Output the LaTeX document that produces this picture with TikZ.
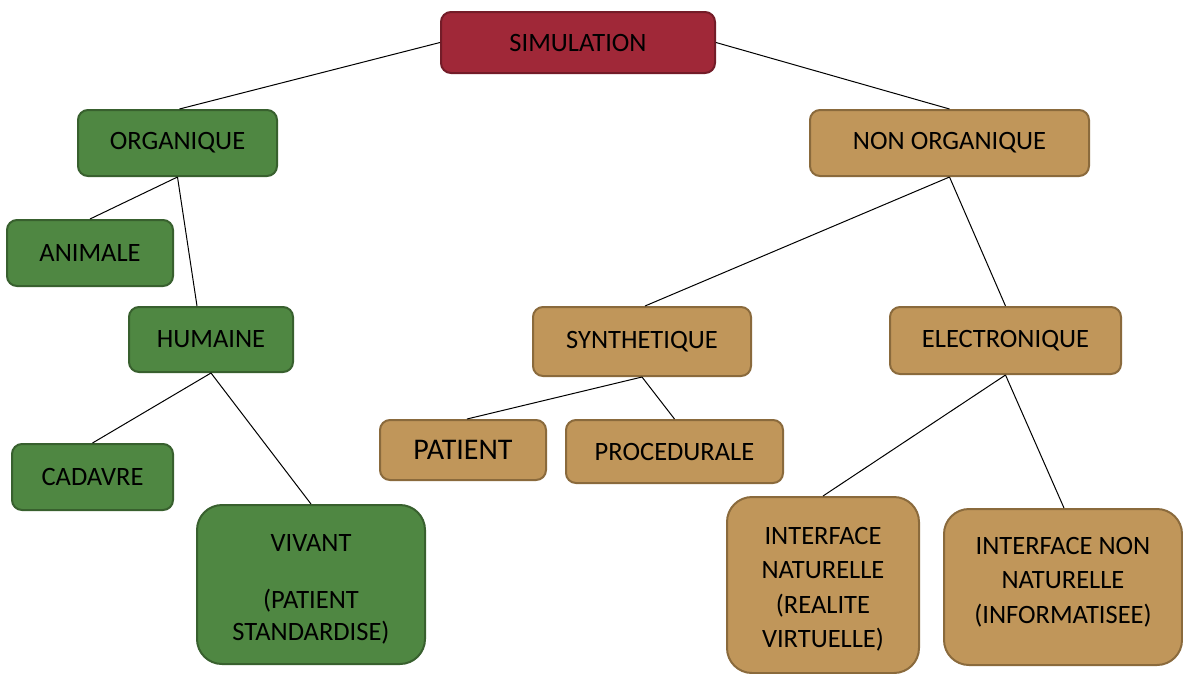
\documentclass[tikz,border=0pt]{standalone}
\usepackage{fontspec}
\setmainfont{Carlito}
\definecolor{simfill}{RGB}{160,40,56}
\definecolor{simdraw}{RGB}{115,28,40}
\definecolor{grfill}{RGB}{79,135,66}
\definecolor{grdraw}{RGB}{56,96,46}
\definecolor{tanfill}{RGB}{192,150,90}
\definecolor{tandraw}{RGB}{138,106,60}
\begin{document}
\begin{tikzpicture}[x=1pt,y=-1pt,
  box/.style={rectangle,rounded corners=10pt,line width=2pt,inner sep=0pt,
    align=center,font=\fontsize{26.5}{34.5}\selectfont,text=black},
  simbox/.style={box,fill=simfill,draw=simdraw},
  grbox/.style={box,fill=grfill,draw=grdraw},
  tanbox/.style={box,fill=tanfill,draw=tandraw},
  txt/.style={inner sep=0pt,align=center,font=\fontsize{26.5}{34.5}\selectfont,text=black},
  link/.style={line width=1pt,black}]
\useasboundingbox (0,0) rectangle (1183,673);
\fill[white] (0,0) rectangle (1183,673);
\node[simbox,minimum width=274pt,minimum height=61pt] (sim) at (578,42.5) {SIMULATION};
\node[grbox,minimum width=199pt,minimum height=66pt] (org) at (177.5,143) {ORGANIQUE};
\node[tanbox,minimum width=279pt,minimum height=66pt] (nonorg) at (949.5,143) {NON ORGANIQUE};
\node[grbox,minimum width=166pt,minimum height=66pt] (ani) at (90,253) {ANIMALE};
\node[grbox,minimum width=164pt,minimum height=65pt] (hum) at (211,339.5) {HUMAINE};
\node[tanbox,minimum width=218pt,minimum height=69pt] (syn) at (642,341.5) {SYNTHETIQUE};
\node[tanbox,minimum width=231pt,minimum height=67pt] (ele) at (1005.5,340.5) {ELECTRONIQUE};
\node[grbox,minimum width=161pt,minimum height=66pt] (cad) at (92.5,477) {CADAVRE};
\node[grbox,rounded corners=25pt,minimum width=228pt,minimum height=159pt] (viv) at (311,584.5) {};
\node[txt] (vivt) at ([yshift=-5pt]viv.center) {VIVANT\\[22pt](PATIENT\\[-2pt]STANDARDISE)};
\node[tanbox,font=\fontsize{30}{34}\selectfont,minimum width=166pt,minimum height=60pt] (pat) at (463,450) {PATIENT};
\node[tanbox,minimum width=217pt,minimum height=63pt] (proc) at (674.5,451.5) {PROCEDURALE};
\node[tanbox,rounded corners=25pt,minimum width=192pt,minimum height=176pt] (inat) at (823,585) {};
\node[txt] (inatt) at ([yshift=-4pt]inat.center) {INTERFACE\\NATURELLE\\(REALITE\\VIRTUELLE)};
\node[tanbox,rounded corners=25pt,minimum width=238pt,minimum height=156pt] (inon) at (1063,587) {};
\node[txt] (inont) at ([yshift=5pt]inon.center) {INTERFACE NON\\NATURELLE\\(INFORMATISEE)};
\draw[link] (sim.west) -- ([xshift=2pt]org.north);
\draw[link] (sim.east) -- (nonorg.north);
\draw[link] (org.south) -- (ani.north);
\draw[link] (org.south) -- ([xshift=-14pt]hum.north);
\draw[link] (hum.south) -- (cad.north);
\draw[link] (hum.south) -- (viv.north);
\draw[link] (nonorg.south) -- ([xshift=3pt]syn.north);
\draw[link] (nonorg.south) -- (ele.north);
\draw[link] (syn.south) -- ([xshift=4pt]pat.north);
\draw[link] (syn.south) -- (proc.north);
\draw[link] (ele.south) -- (inat.north);
\draw[link] (ele.south) -- ([xshift=1pt]inon.north);
\end{tikzpicture}
\end{document}
